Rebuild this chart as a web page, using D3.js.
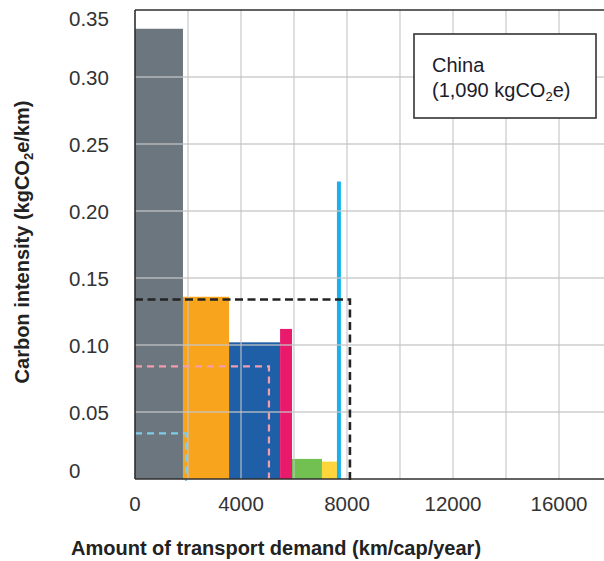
<!DOCTYPE html>
<html>
<head>
<meta charset="utf-8">
<script src="https://cdn.jsdelivr.net/npm/d3@7"></script>
<style>
  html, body { margin: 0; padding: 0; background: #fff; }
  svg { display: block; font-family: "Liberation Sans", Arial, Helvetica, sans-serif; }
</style>
</head>
<body>
<svg id="chart" width="604" height="561"></svg>
<script>
// ---- data ----
const modes = ["Car", "Bus", "Rail", "Motorcycle", "Bicycle", "Walking", "Aviation"];
const demand = [1810, 1740, 1925, 450, 1130, 565, 150];          // km/cap/year (bar widths)
const intensity = [0.336, 0.136, 0.102, 0.112, 0.015, 0.013, 0.222]; // kgCO2e/km (bar heights)
const barColors = ["#6c767f", "#f8a51d", "#1f5fa8", "#e9196b", "#72bf52", "#fed63b", "#19b1ea"];

const refNames = ["Total average", "Scenario A", "Scenario B"];
const refDemand = [8110, 5055, 1925];
const refIntensity = [0.134, 0.084, 0.034];
const refColors = ["#222222", "#f39cad", "#7fcbea"];

const xTicks = [0, 4000, 8000, 12000, 16000];
const xGrid = [2000, 4000, 6000, 8000, 10000, 12000, 14000, 16000];
const yTicks = [0, 0.05, 0.10, 0.15, 0.20, 0.25, 0.30, 0.35];
const yTickLabels = ["0", "0.05", "0.10", "0.15", "0.20", "0.25", "0.30", "0.35"];

// ---- layout ----
const svg = d3.select("#chart");
const x = d3.scaleLinear().domain([0, 18000]).range([135, 612]);
const y = d3.scaleLinear().domain([0, 0.35]).range([479, 10]);

// bars (cumulative x positions)
const starts = [];
let acc = 0;
demand.forEach(d => { starts.push(acc); acc += d; });
const bars = modes.map((m, i) => ({ name: m, x0: starts[i], x1: starts[i] + demand[i], v: intensity[i], c: barColors[i] }));

svg.append("g").selectAll("rect").data(bars).join("rect")
  .attr("x", d => x(d.x0))
  .attr("width", d => x(d.x1) - x(d.x0))
  .attr("y", d => y(d.v))
  .attr("height", d => y(0) - y(d.v))
  .attr("fill", d => d.c);

// grid (on top of bars)
const grid = svg.append("g").attr("stroke", "#c4c4c4").attr("stroke-width", 1.3).attr("stroke-opacity", 0.85);
grid.selectAll("line.v").data(xGrid).join("line").attr("class", "v")
  .attr("x1", d => x(d)).attr("x2", d => x(d)).attr("y1", y(0.35)).attr("y2", y(0));
grid.selectAll("line.h").data(yTicks.filter(v => v > 0 && v < 0.35)).join("line").attr("class", "h")
  .attr("x1", x(0)).attr("x2", 604).attr("y1", d => y(d)).attr("y2", d => y(d));

// reference dashed lines
const refs = refNames.map((n, i) => ({ name: n, d: refDemand[i], v: refIntensity[i], c: refColors[i] }));
svg.append("g").selectAll("path").data(refs).join("path")
  .attr("d", d => `M${x(0)},${y(d.v)}H${x(d.d)}V${y(0) + 2}`)
  .attr("fill", "none")
  .attr("stroke", d => d.c)
  .attr("stroke-width", (d, i) => i === 0 ? 2.6 : 2.2)
  .attr("stroke-dasharray", (d, i) => i === 0 ? "8,4.5" : "7,5");

// axes frame
const frame = svg.append("g").attr("stroke", "#2e2e2e").attr("stroke-width", 1.6).attr("fill", "none");
frame.append("line").attr("x1", x(0)).attr("x2", 604).attr("y1", y(0.35)).attr("y2", y(0.35));
frame.append("line").attr("x1", x(0)).attr("x2", x(0)).attr("y1", y(0.35)).attr("y2", y(0));
frame.append("line").attr("x1", x(0)).attr("x2", 604).attr("y1", y(0)).attr("y2", y(0));

// tick labels
svg.append("g").selectAll("text").data(xTicks).join("text")
  .attr("x", d => x(d)).attr("y", 511)
  .attr("text-anchor", "middle").attr("font-size", 20.5).attr("fill", "#333")
  .text(d => d);

svg.append("g").selectAll("text").data(yTicks).join("text")
  .attr("x", 69)
  .attr("y", (d, i) => i === 0 ? y(d) - 1 : (i === yTicks.length - 1 ? y(d) + 16 : y(d) + 8))
  .attr("font-size", 20.5).attr("fill", "#333")
  .text((d, i) => yTickLabels[i]);

// axis titles
svg.append("text").attr("x", 71).attr("y", 555)
  .attr("font-size", 20).attr("font-weight", "bold").attr("fill", "#222")
  .text("Amount of transport demand (km/cap/year)");

const yt = svg.append("text")
  .attr("transform", "translate(29,242) rotate(-90)")
  .attr("text-anchor", "middle")
  .attr("font-size", 20).attr("font-weight", "bold").attr("fill", "#222");
yt.append("tspan").text("Carbon intensity (kgCO");
yt.append("tspan").attr("font-size", 13).attr("dy", 4).text("2");
yt.append("tspan").attr("dy", -4).text("e/km)");

// legend box
svg.append("rect").attr("x", 414).attr("y", 34).attr("width", 182).attr("height", 84)
  .attr("fill", "#fff").attr("stroke", "#333").attr("stroke-width", 1.6);
svg.append("text").attr("x", 432).attr("y", 72).attr("font-size", 20).attr("fill", "#1c1c2c").text("China");
const lt = svg.append("text").attr("x", 432).attr("y", 97).attr("font-size", 20).attr("fill", "#1c1c2c");
lt.append("tspan").text("(1,090 kgCO");
lt.append("tspan").attr("font-size", 13).attr("dy", 4).text("2");
lt.append("tspan").attr("dy", -4).text("e)");
</script>
</body>
</html>
